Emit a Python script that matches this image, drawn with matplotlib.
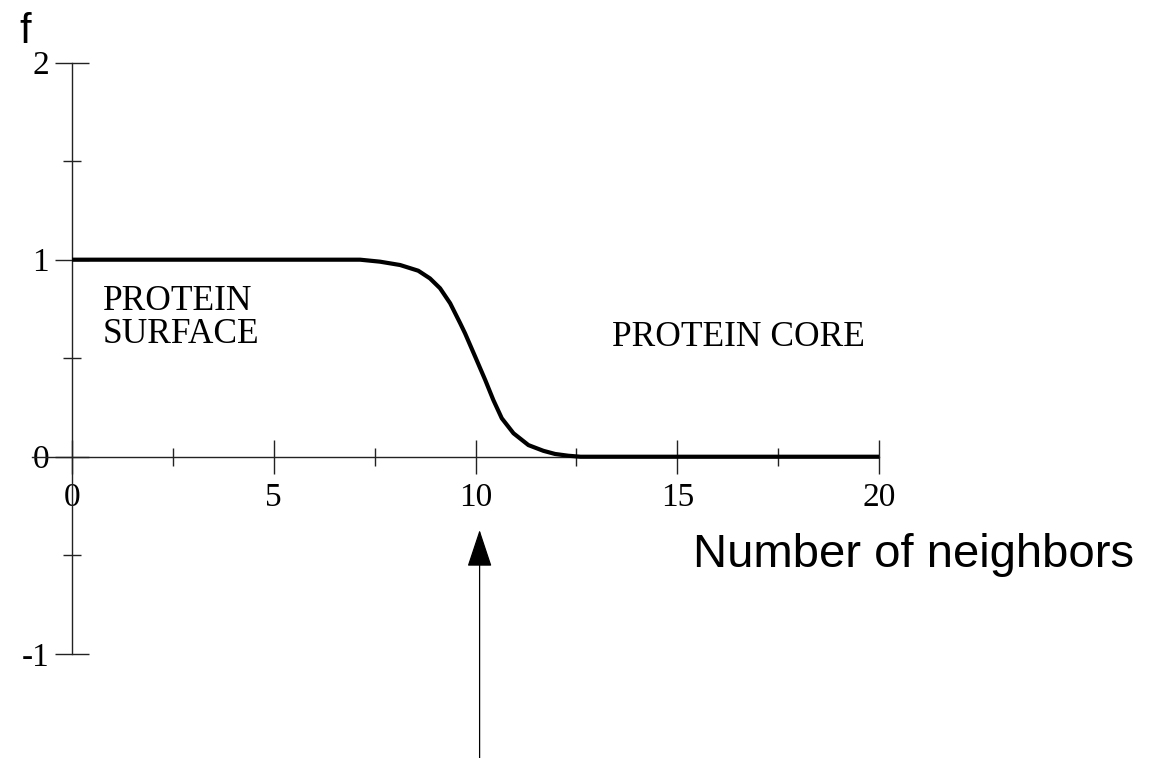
import matplotlib
matplotlib.use("Agg")
import matplotlib.pyplot as plt

# Data
x_vals = [0, 7.14, 7.63, 8.13, 8.58, 8.87, 9.12, 9.37, 9.62, 9.74, 9.99, 10.24,
          10.44, 10.65, 10.94, 11.31, 11.68, 11.97, 12.3, 12.6, 20]
f_vals = [1.0, 1.0, 0.99, 0.973, 0.944, 0.905, 0.855, 0.779, 0.677, 0.626, 0.508, 0.389,
          0.288, 0.195, 0.119, 0.059, 0.030, 0.014, 0.005, 0.0, 0.0]

x_major = [0, 5, 10, 15, 20]
x_major_labels = ["0", "5", "10", "15", "20"]
x_minor = [2.5, 7.5, 12.5, 17.5]
y_major = [-1, 0, 1, 2]
y_major_labels = ["-1", "0", "1", "2"]
y_minor = [-0.5, 0.5, 1.5]

arrow_x = 10.1
arrow_tip_y = -0.372

serif = "Liberation Serif"
sans = "Liberation Sans"

fig = plt.figure(figsize=(11.58, 7.58), dpi=100)
ax = fig.add_axes([0, 0, 1, 1])
ax.set_xlim(-1.784, 26.91)
ax.set_ylim(-1.529, 2.318)
ax.patch.set_visible(False)

for s in ["top", "right"]:
    ax.spines[s].set_visible(False)
ax.spines["left"].set_position(("data", 0))
ax.spines["bottom"].set_position(("data", 0))
ax.spines["left"].set_bounds(-1, 2)
ax.spines["bottom"].set_bounds(-1.0, 20)
for s in ["left", "bottom"]:
    ax.spines[s].set_linewidth(1.0)
    ax.spines[s].set_color("#222222")

ax.set_xticks(x_major)
ax.set_xticklabels(x_major_labels)
ax.set_xticks(x_minor, minor=True)
ax.set_yticks(y_major)
ax.set_yticklabels(y_major_labels)
ax.set_yticks(y_minor, minor=True)

ax.tick_params(axis="both", which="major", direction="inout", length=25, width=1.0,
               color="#222222", labelsize=24)
ax.tick_params(axis="both", which="minor", direction="inout", length=13, width=1.0,
               color="#222222")
ax.tick_params(axis="x", which="major", pad=6)
ax.tick_params(axis="y", which="major", pad=4)
for lbl in ax.get_xticklabels() + ax.get_yticklabels():
    lbl.set_fontfamily(serif)

ax.plot(x_vals, f_vals, color="black", lw=3.0, solid_joinstyle="round",
        solid_capstyle="butt", zorder=3)

ax.annotate("", xy=(arrow_x, arrow_tip_y), xytext=(arrow_x, -1.6),
            arrowprops=dict(arrowstyle="-|>,head_length=2.38,head_width=0.79",
                            mutation_scale=10, color="black", lw=0.9,
                            shrinkA=0, shrinkB=0))

ax.text(0.77, 0.745, "PROTEIN", family=serif, fontsize=25.5, ha="left", va="baseline")
ax.text(0.77, 0.577, "SURFACE", family=serif, fontsize=25.5, ha="left", va="baseline")
ax.text(13.38, 0.56, "PROTEIN CORE", family=serif, fontsize=25.5, ha="left", va="baseline")

ax.text(-1.31, 2.10, "f", family=sans, fontsize=30, ha="left", va="baseline")
ax.text(15.39, -0.56, "Number of neighbors", family=sans, fontsize=34, ha="left", va="baseline")

fig.savefig("out.png", dpi=100)
